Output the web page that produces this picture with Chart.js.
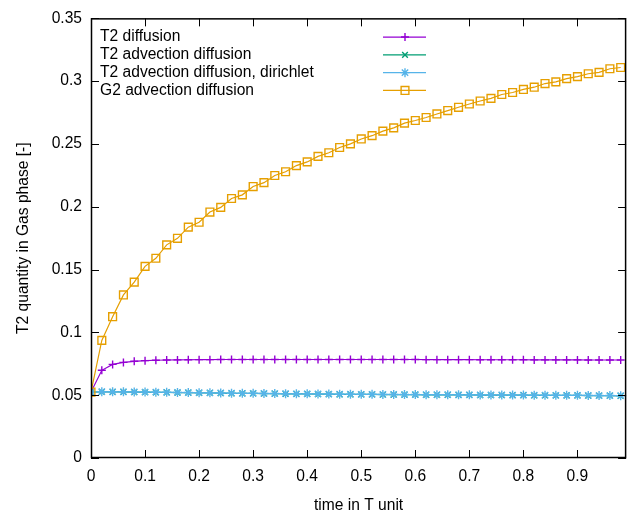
<!DOCTYPE html>
<html>
<head>
<meta charset="utf-8">
<script src="https://cdn.jsdelivr.net/npm/chart.js@4/dist/chart.umd.min.js"></script>
<style>
  html, body { margin: 0; padding: 0; background: #fff; }
  canvas { display: block; }
</style>
</head>
<body>
<canvas id="grafico" width="633" height="515"></canvas>
<script>
// time values (T unit)
const tempos = [0, 0.02, 0.04, 0.06, 0.08, 0.1, 0.12, 0.14, 0.16, 0.18,
  0.2, 0.22, 0.24, 0.26, 0.28, 0.3, 0.32, 0.34, 0.36, 0.38,
  0.4, 0.42, 0.44, 0.46, 0.48, 0.5, 0.52, 0.54, 0.56, 0.58,
  0.6, 0.62, 0.64, 0.66, 0.68, 0.7, 0.72, 0.74, 0.76, 0.78,
  0.8, 0.82, 0.84, 0.86, 0.88, 0.9, 0.92, 0.94, 0.96, 0.98];

const t2Difusao = [0.0525, 0.0698, 0.0745, 0.0761, 0.0770, 0.0775, 0.0778, 0.0780, 0.0781, 0.0782,
  0.0783, 0.0783, 0.0784, 0.0784, 0.0784, 0.0784, 0.0784, 0.0784, 0.0784, 0.0784,
  0.0784, 0.0784, 0.0784, 0.0784, 0.0784, 0.0784, 0.0784, 0.0784, 0.0784, 0.0784,
  0.0784, 0.0783, 0.0783, 0.0783, 0.0783, 0.0783, 0.0782, 0.0782, 0.0782, 0.0782,
  0.0782, 0.0781, 0.0781, 0.0781, 0.0781, 0.0781, 0.0780, 0.0780, 0.0780, 0.0780];

const t2Adveccao = [0.0524, 0.0527, 0.0526, 0.0526, 0.0525, 0.0524, 0.0523, 0.0522, 0.0521, 0.0520,
  0.0519, 0.0518, 0.0517, 0.0515, 0.0514, 0.0514, 0.0513, 0.0512, 0.0511, 0.0510,
  0.0510, 0.0509, 0.0508, 0.0507, 0.0507, 0.0506, 0.0506, 0.0505, 0.0505, 0.0504,
  0.0504, 0.0503, 0.0503, 0.0503, 0.0502, 0.0502, 0.0501, 0.0501, 0.0501, 0.0500,
  0.0500, 0.0499, 0.0499, 0.0498, 0.0498, 0.0498, 0.0497, 0.0496, 0.0496, 0.0495];

const t2Dirichlet = [0.0525, 0.0528, 0.0527, 0.0527, 0.0526, 0.0525, 0.0524, 0.0523, 0.0522, 0.0521,
  0.0520, 0.0519, 0.0518, 0.0516, 0.0515, 0.0515, 0.0514, 0.0513, 0.0512, 0.0511,
  0.0511, 0.0510, 0.0509, 0.0508, 0.0508, 0.0507, 0.0507, 0.0506, 0.0506, 0.0505,
  0.0505, 0.0504, 0.0504, 0.0504, 0.0503, 0.0503, 0.0502, 0.0502, 0.0502, 0.0501,
  0.0501, 0.0500, 0.0500, 0.0499, 0.0499, 0.0499, 0.0498, 0.0497, 0.0497, 0.0496];

const g2Adveccao = [0.0525, 0.0936, 0.1125, 0.1298, 0.1400, 0.1526, 0.1590, 0.1697, 0.1749, 0.1838,
  0.1877, 0.1958, 0.1995, 0.2066, 0.2095, 0.2161, 0.2192, 0.2249, 0.2279, 0.2328,
  0.2357, 0.2401, 0.2430, 0.2472, 0.2501, 0.2540, 0.2566, 0.2602, 0.2628, 0.2666,
  0.2687, 0.2711, 0.2739, 0.2766, 0.2792, 0.2818, 0.2842, 0.2863, 0.2894, 0.2910,
  0.2934, 0.2952, 0.2981, 0.2994, 0.3020, 0.3036, 0.3059, 0.3070, 0.3099, 0.3109];

const nomes = ["T2 diffusion", "T2 advection diffusion", "T2 advection diffusion, dirichlet", "G2 advection diffusion"];
const cores = ["#9400d3", "#009e73", "#56b4e9", "#e69f00"];
const marcadores = ["cross", "crossRot", "star", "rect"];
const raios = [4, 4, 4.5, 5.5];

const xTicks = [0, 0.1, 0.2, 0.3, 0.4, 0.5, 0.6, 0.7, 0.8, 0.9];
const yTicks = [0, 0.05, 0.1, 0.15, 0.2, 0.25, 0.3, 0.35];

const fonte = "'Liberation Sans', Arial, sans-serif";
const tamanho = 15.6;

function pontos(ys) {
    return tempos.map(function (t, i) { return { x: t, y: ys[i] }; });
}

const series = [t2Difusao, t2Adveccao, t2Dirichlet, g2Adveccao];
const datasets = series.map(function (ys, i) {
    return {
        label: nomes[i],
        data: pontos(ys),
        borderColor: cores[i],
        backgroundColor: 'rgba(0,0,0,0)',
        borderWidth: 1.2,
        pointStyle: marcadores[i],
        pointRadius: raios[i],
        pointBorderColor: cores[i],
        pointBorderWidth: 1.4,
        pointBackgroundColor: 'rgba(0,0,0,0)',
        pointHoverRadius: raios[i],
        order: 4 - i,
        tension: 0
    };
});

function desenhaMarcador(ctx, estilo, x, y, r) {
    ctx.beginPath();
    if (estilo === 'cross' || estilo === 'star') {
        ctx.moveTo(x - r, y); ctx.lineTo(x + r, y);
        ctx.moveTo(x, y - r); ctx.lineTo(x, y + r);
    }
    if (estilo === 'crossRot' || estilo === 'star') {
        const d = r * Math.SQRT1_2;
        ctx.moveTo(x - d, y - d); ctx.lineTo(x + d, y + d);
        ctx.moveTo(x - d, y + d); ctx.lineTo(x + d, y - d);
    }
    if (estilo === 'rect') {
        const s = r * Math.SQRT1_2;
        ctx.rect(x - s, y - s, 2 * s, 2 * s);
    }
    ctx.stroke();
}

// box, inward ticks on all sides, legend inside plot
const molduraPlugin = {
    id: 'moldura',
    afterDraw: function (chart) {
        const ctx = chart.ctx;
        const a = chart.chartArea;
        const sx = chart.scales.x, sy = chart.scales.y;
        ctx.save();
        ctx.strokeStyle = '#000';
        ctx.lineWidth = 1;
        ctx.beginPath();
        xTicks.forEach(function (v) {
            const px = Math.round(sx.getPixelForValue(v)) + 0.5;
            ctx.moveTo(px, a.bottom); ctx.lineTo(px, a.bottom - 8);
            ctx.moveTo(px, a.top); ctx.lineTo(px, a.top + 8);
        });
        yTicks.forEach(function (v) {
            const py = Math.round(sy.getPixelForValue(v)) + 0.5;
            ctx.moveTo(a.left, py); ctx.lineTo(a.left + 8, py);
            ctx.moveTo(a.right, py); ctx.lineTo(a.right - 8, py);
        });
        ctx.stroke();
        ctx.lineWidth = 1.5;
        ctx.strokeRect(a.left + 0.5, a.top + 0.5, a.right - a.left - 1, a.bottom - a.top - 1);

        // legend
        ctx.font = tamanho + 'px ' + fonte;
        ctx.textBaseline = 'middle';
        ctx.textAlign = 'left';
        for (let i = 0; i < nomes.length; i++) {
            const yy = a.top + 18.7 + i * 17.8;
            ctx.fillStyle = '#000';
            ctx.fillText(nomes[i], a.left + 9, yy);
            ctx.strokeStyle = cores[i];
            ctx.lineWidth = 1.2;
            ctx.beginPath();
            ctx.moveTo(383, yy); ctx.lineTo(426, yy);
            ctx.stroke();
            ctx.lineWidth = 1.4;
            desenhaMarcador(ctx, marcadores[i], 405, yy, raios[i]);
        }
        ctx.restore();
    }
};

function rotulo(v) {
    return String(Math.round(v * 100) / 100);
}

new Chart("grafico", {
    type: "line",
    data: { datasets: datasets },
    plugins: [molduraPlugin],
    options: {
        responsive: false,
        animation: false,
        devicePixelRatio: 1,
        layout: { padding: { top: 13, right: 1, left: 0, bottom: 0 } },
        plugins: {
            legend: { display: false },
            tooltip: { enabled: false }
        },
        scales: {
            x: {
                type: 'linear',
                min: 0,
                max: 0.99,
                afterFit: function (s) { s.height = 57; },
                grid: { display: false, drawTicks: false },
                border: { display: false },
                ticks: {
                    stepSize: 0.1,
                    includeBounds: false,
                    maxRotation: 0,
                    autoSkip: false,
                    padding: 9,
                    color: '#000',
                    font: { family: fonte, size: tamanho },
                    callback: rotulo
                },
                title: {
                    display: true,
                    text: 'time in T unit',
                    color: '#000',
                    font: { family: fonte, size: tamanho },
                    padding: { top: 5, bottom: 0 }
                }
            },
            y: {
                min: 0,
                max: 0.35,
                afterFit: function (s) { s.width = 91; },
                grid: { display: false, drawTicks: false },
                border: { display: false },
                ticks: {
                    stepSize: 0.05,
                    padding: 9,
                    color: '#000',
                    font: { family: fonte, size: tamanho },
                    callback: rotulo
                },
                title: {
                    display: true,
                    text: 'T2 quantity in Gas phase [-]',
                    color: '#000',
                    font: { family: fonte, size: tamanho },
                    padding: { top: 14, bottom: 0 }
                }
            }
        }
    }
});
</script>
</body>
</html>
